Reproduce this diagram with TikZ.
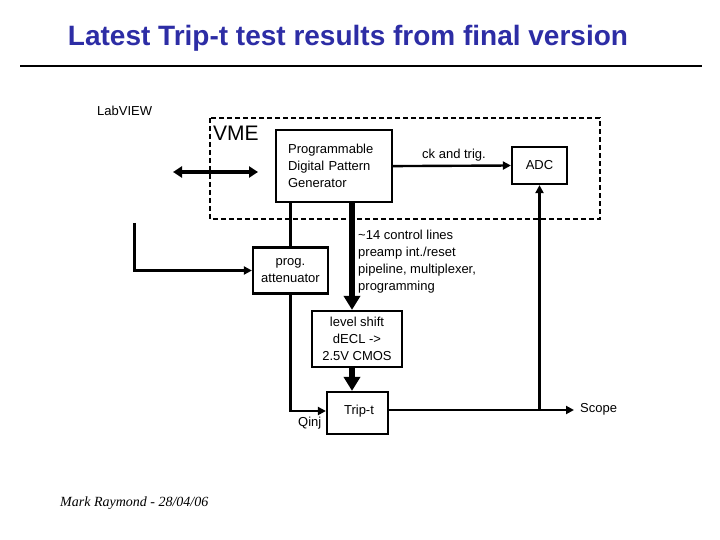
\documentclass[tikz,border=0pt]{standalone}
\usepackage{fontspec}
\setmainfont{Liberation Sans}
\newfontfamily\footfont{Liberation Serif}
\usetikzlibrary{arrows.meta}
\definecolor{titleblue}{RGB}{45,45,165}
\begin{document}
\begin{tikzpicture}[x=1pt,y=-1pt,
  lbl/.style={font=\fontsize{13}{17}\selectfont, inner sep=0pt},
  box/.style={draw, line width=2.2pt, inner sep=0pt, font=\fontsize{13}{17}\selectfont, align=center},
  plain/.style={line width=2.4pt},
  thin/.style={line width=2.4pt, -{Triangle[width=8pt,length=8pt]}},
  thick/.style={line width=5.5pt, -{Triangle[width=16pt,length=14pt]}},
  dbl/.style={line width=3.2pt, {Triangle[width=11pt,length=9pt]}-{Triangle[width=11pt,length=9pt]}}]
\useasboundingbox (0,0) rectangle (720,540);
% title
\node (title) [anchor=base, font=\fontsize{28}{32}\selectfont\bfseries, text=titleblue, inner sep=0pt] at (348,46) {Latest Trip-t test results from final version};
\draw[line width=2.2pt] (20,66) -- (702,66);
% VME dashed area
\draw[line width=2pt, dash pattern=on 5pt off 3pt] (210,118) rectangle (600,219);
\node (vme) [anchor=west, inner sep=0pt, font=\fontsize{21}{24}\selectfont] at (213,133) {VME};
\node (labview) [lbl, anchor=west] at (97,111) {LabVIEW};
% boxes
\node (pdpg) [box, anchor=north west, minimum height=72pt, text width=92pt, inner xsep=12pt, align=left] at (275,129) {Programmable\\Digital Pattern\\Generator};
\node (adc) [box, minimum width=55pt, minimum height=37pt] at (539.5,165.5) {ADC};
\node (att) [box, minimum width=75pt, minimum height=46pt] at (290.5,270.5) {prog.\\attenuator};
\node (ls) [box, minimum width=90pt, minimum height=56pt] at (357,339) {level shift\\dECL -{}>\\2.5V CMOS};
\node (trip) [box, minimum width=61pt, minimum height=42pt] at (357.5,413) {};
\node (triptext) [lbl] at (359,411) {Trip-t};
% labels
\node (cklbl) [lbl, anchor=west] at (422,155) {ck and trig.};
\node (ctl) [lbl, anchor=west, align=left] at (358,262) {\textasciitilde 14 control lines\\preamp int./reset\\pipeline, multiplexer,\\programming};
\node (qinj) [lbl, anchor=west] at (298,423) {Qinj};
\node (scope) [lbl, anchor=west] at (580,409) {Scope};
\node (foot) [anchor=west, inner sep=0pt, font=\footfont\itshape\fontsize{14}{16}\selectfont] at (60,503) {Mark Raymond - 28/04/06};
% coordinates
\coordinate (dl) at (173,172);
\coordinate (dr) at (258,172);
\coordinate (lv) at (134.5,223);
\coordinate (tapout) at ([yshift=3pt]trip.east);
\coordinate (scopeend) at (574,410);
\coordinate (adcfoot) at (adc.south |- tapout);
% connectors
\draw[dbl] (dl) -- (dr);
\draw[thin] (pdpg.east) -- (adc.west);
\draw[plain] (att.north) -- (att.north |- pdpg.south);
\draw[thick] ([xshift=-5pt]ls.north |- pdpg.south) -- ([xshift=-5pt]ls.north);
\draw[thick] ([xshift=-5pt]ls.south) -- ([xshift=-5pt]ls.south |- trip.north);
\draw[thin] (lv) |- (att.west);
\draw[thin] (att.south) |- ([yshift=2pt]trip.west);
\draw[thin] (tapout) -- (scopeend);
\draw[thin] (adcfoot) -- (adc.south);
\end{tikzpicture}
\end{document}
